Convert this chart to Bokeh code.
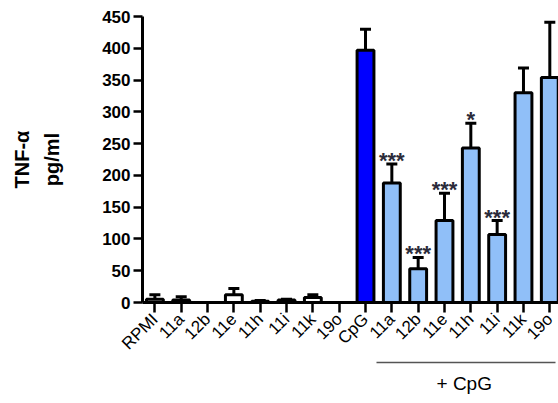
from bokeh.plotting import figure
from bokeh.models import (ColumnDataSource, Range1d, FixedTicker, Whisker, TeeHead,
                          LinearAxis)
from bokeh.core.properties import value
from bokeh.embed import file_html
from bokeh.resources import INLINE
import math

# TNF-alpha secretion per treatment (pg/ml), mean and SEM
labels = ["RPMI", "11a", "12b", "11e", "11h", "11i", "11k", "19o",
          "CpG", "11a", "12b", "11e", "11h", "11i", "11k", "19o"]
means = [5, 4, 0, 12, 2, 4, 8, 0, 397, 188, 53, 129, 243, 107, 330, 354]
errs = [7, 5, 0, 10, 1, 1, 4, 0, 33, 30, 18, 43, 39, 22, 39, 87]
signif = ["", "", "", "", "", "", "", "", "", "***", "***", "***", "*", "***", "", ""]
y_ticks = [0, 50, 100, 150, 200, 250, 300, 350, 400, 450]
cpg_group = (8.4, 15.2)
cpg_label_at = 11.75

FONT = "Liberation Sans"
WHITE, BLUE, LIGHT = "#FFFFFF", "#0000FF", "#90BFF8"
fills = [WHITE] * 8 + [BLUE] + [LIGHT] * 7

xs = list(range(len(labels)))
src = ColumnDataSource(dict(
    x=xs, top=means, upper=[m + e for m, e in zip(means, errs)],
    fill=fills, sig=signif,
))

p = figure(width=558, height=403, output_backend="svg", toolbar_location=None,
           x_range=Range1d(-0.47, 15.33), y_range=Range1d(0, 450),
           min_border_left=142, min_border_right=0, min_border_top=16,
           min_border_bottom=101)
p.outline_line_color = None
p.grid.visible = False
p.background_fill_color = "white"
p.border_fill_color = "white"

p.vbar(x="x", top="top", bottom=0, width=0.64, source=src,
       fill_color="fill", line_color="black", line_width=3)

whisk = Whisker(base="x", upper="upper", lower="top", source=src,
                line_color="black", line_width=3,
                upper_head=TeeHead(size=11, line_color="black", line_width=3),
                lower_head=None)
p.add_layout(whisk)

p.text(x="x", y="upper", text="sig", source=src, text_align="center",
       text_baseline="bottom", y_offset=9, text_font=value(FONT),
       text_font_style="bold", text_font_size="22px", text_color="#2b2b3a")

# axes
p.xaxis.ticker = FixedTicker(ticks=xs)
p.xaxis.major_label_overrides = {i: t for i, t in enumerate(labels)}
p.xaxis.major_label_orientation = math.pi / 4
p.xaxis.major_label_text_font = FONT
p.xaxis.major_label_text_font_size = "17px"
p.xaxis.major_label_text_color = "black"
p.xaxis.major_label_standoff = 4
p.xaxis.major_tick_out = 10
p.xaxis.major_tick_in = 0
p.xaxis.minor_tick_line_color = None

p.yaxis.ticker = FixedTicker(ticks=y_ticks)
p.yaxis.major_label_text_font = FONT
p.yaxis.major_label_text_font_style = "bold"
p.yaxis.major_label_text_font_size = "17px"
p.yaxis.major_label_text_color = "black"
p.yaxis.major_label_standoff = 3
p.yaxis.major_tick_out = 9
p.yaxis.major_tick_in = 0
p.yaxis.minor_tick_line_color = None
p.yaxis.axis_label = "TNF-\u03b1\npg/ml"
p.yaxis.axis_label_text_font = FONT
p.yaxis.axis_label_text_font_style = "bold"
p.yaxis.axis_label_text_font_size = "20px"
p.yaxis.axis_label_text_color = "black"
p.yaxis.axis_label_text_line_height = 1.35
p.yaxis.axis_label_standoff = 36

for ax in (p.xaxis, p.yaxis):
    ax.axis_line_width = 3
    ax.major_tick_line_width = 2.5
    ax.axis_line_color = "black"
    ax.major_tick_line_color = "black"

# "+ CpG" group bracket: a bare axis line under the treated bars
grp = LinearAxis(ticker=FixedTicker(ticks=[cpg_label_at]), bounds=cpg_group,
                 axis_line_color="#555555", axis_line_width=1.5,
                 major_tick_line_color=None, minor_tick_line_color=None,
                 major_tick_out=0, major_tick_in=0,
                 major_label_overrides={cpg_label_at: "+ CpG"},
                 major_label_standoff=10,
                 major_label_text_font=FONT, major_label_text_font_size="19px",
                 major_label_text_color="black")
p.add_layout(grp, "below")

open("out.html", "w").write(file_html(p, INLINE))
